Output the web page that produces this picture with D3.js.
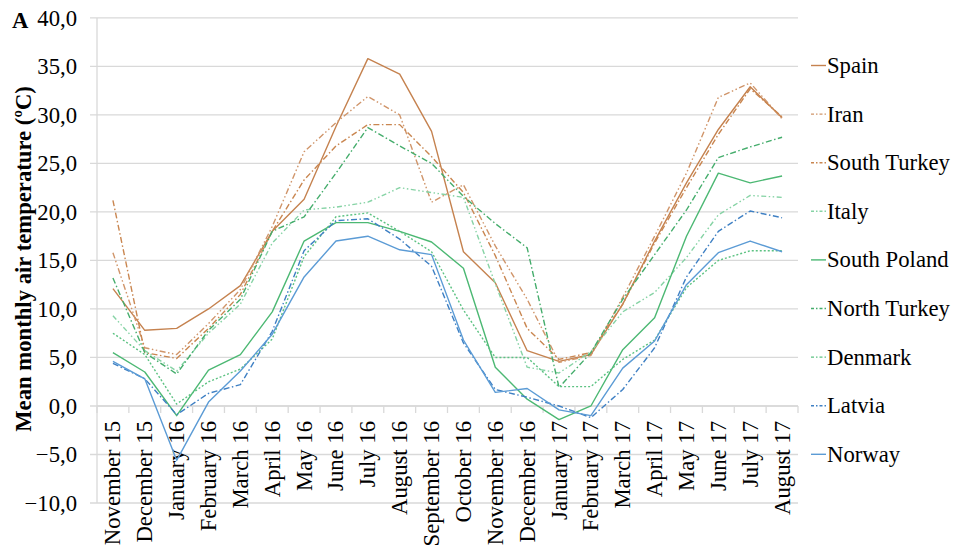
<!DOCTYPE html>
<html><head><meta charset="utf-8">
<script src="https://cdn.jsdelivr.net/npm/d3@7/dist/d3.min.js"></script>
<style>body{margin:0;background:#fff}svg{display:block}</style>
</head><body><svg id="c" width="959" height="554"></svg>
<script>
const months = ["November 15","December 15","January 16","February 16","March 16","April 16","May 16","June 16","July 16","August 16","September 16","October 16","November 16","December 16","January 17","February 17","March 17","April 17","May 17","June 17","July 17","August 17"];
const yTicks = [-10,-5,0,5,10,15,20,25,30,35,40];
const seriesNames = ["Spain","Iran","South Turkey","Italy","South Poland","North Turkey","Denmark","Latvia","Norway"];
const spain       = [12.1,7.8,8.0,10.0,12.4,18.0,21.3,28.8,35.8,34.2,28.3,15.9,12.7,5.7,4.6,5.3,10.5,17.0,23.0,28.5,32.9,29.7];
const iran        = [15.8,6.0,5.3,8.5,12.0,18.5,26.2,29.2,31.9,30.0,21.0,22.8,16.5,11.0,4.5,5.2,11.2,17.5,24.0,31.8,33.3,29.6];
const southTurkey = [21.2,5.5,4.9,8.0,11.5,18.0,23.3,26.8,29.0,29.0,25.7,22.0,15.5,8.0,4.8,5.5,10.5,16.8,22.5,28.0,32.7,29.8];
const italy       = [9.3,5.7,3.6,7.5,10.5,16.8,20.2,20.5,21.0,22.5,22.0,21.5,12.6,4.0,3.4,5.6,9.7,11.7,15.3,19.7,21.7,21.5];
const southPoland = [5.5,3.5,-1.0,3.7,5.3,9.7,17.0,18.9,18.9,18.0,16.9,14.2,4.0,0.7,-1.4,0.0,5.8,9.1,17.5,24.0,23.0,23.7];
const northTurkey = [13.2,5.5,3.3,7.8,11.0,18.0,19.5,24.0,28.7,26.8,25.0,21.6,18.8,16.3,1.9,5.5,11.0,15.6,20.2,25.6,26.7,27.7];
const denmark     = [7.5,5.3,0.2,2.5,3.8,6.9,15.4,19.5,19.9,18.0,15.9,9.9,5.0,5.0,2.0,2.0,4.8,6.8,12.2,15.0,16.0,16.0];
const latvia      = [4.4,2.8,-0.9,1.3,2.2,7.7,16.0,19.1,19.3,17.2,14.4,6.5,1.7,0.9,0.0,-1.2,1.7,6.0,13.3,18.0,20.1,19.4];
const norway      = [4.6,2.8,-5.6,0.4,3.6,7.4,13.3,17.0,17.5,16.1,15.6,6.8,1.4,1.8,-0.4,-1.0,3.9,6.7,12.5,15.8,17.0,15.9];

const values = [spain,iran,southTurkey,italy,southPoland,northTurkey,denmark,latvia,norway];
const colors = ["#c5824f","#d0956a","#c98650","#86d3a5","#4cb873","#45ad6c","#5cc282","#3f80c4","#5b9bd5"];
const dashes = [null,"6,2.5,1.5,2.5,1.5,2.5","6,2.5,1.5,2.5","5,2.5,1.5,2.5,1.5,2.5",null,"6,2.5,1.5,2.5","2,2","6,2.5,1.5,2.5",null];

const FF = "Liberation Serif";
const svg = d3.select("#c");
const L = 97, R = 798, T = 17.9, B = 503;
const x = d3.scaleBand().domain(months).range([L,R]);
const y = d3.scaleLinear().domain([-10,40]).range([B,T]);
const grid = "#d9d9d9";
const fs = 22.7;
function txt(sel){ return sel.append("text").style("font-family",FF).attr("font-size",fs).attr("fill","#000"); }

yTicks.forEach(t=>{
  svg.append("line").attr("x1",L-7).attr("x2",R).attr("y1",y(t)).attr("y2",y(t)).attr("stroke",grid).attr("stroke-width",1.3);
  txt(svg).attr("x",77).attr("y",y(t)).attr("dy","0.34em").attr("text-anchor","end")
    .text(d3.format(".1f")(t).replace(".",","));
});
svg.append("line").attr("x1",L).attr("x2",L).attr("y1",T).attr("y2",B).attr("stroke",grid).attr("stroke-width",1.3);
const y0 = y(0);
svg.append("line").attr("x1",L).attr("x2",R).attr("y1",y0).attr("y2",y0).attr("stroke",grid).attr("stroke-width",1.3);
d3.range(months.length+1).forEach(i=>{
  const xb = L + i*x.bandwidth();
  svg.append("line").attr("x1",xb).attr("x2",xb).attr("y1",y0).attr("y2",y0+7).attr("stroke",grid).attr("stroke-width",1.3);
});
months.forEach(m=>{
  const cx = x(m)+x.bandwidth()/2;
  txt(svg).attr("transform",`translate(${cx},421) rotate(-90)`).attr("dy","0.33em")
    .attr("text-anchor","end").text(m);
});

const line = d3.line().x((d,i)=>x(months[i])+x.bandwidth()/2).y(d=>y(d));
values.forEach((v,k)=>{
  svg.append("path").datum(v).attr("d",line).attr("fill","none").attr("stroke",colors[k])
    .attr("stroke-width",1.4).attr("stroke-dasharray",dashes[k]).attr("stroke-linejoin","round");
});

seriesNames.forEach((n,k)=>{
  const ly = 65.5 + k*48.6;
  svg.append("line").attr("x1",811).attr("x2",826).attr("y1",ly).attr("y2",ly).attr("stroke",colors[k])
    .attr("stroke-width",1.4).attr("stroke-dasharray",dashes[k] ? "3,2,1.5,2" : null);
  txt(svg).attr("x",827).attr("y",ly).attr("dy","0.33em").text(n);
});

txt(svg).attr("transform","translate(31,259) rotate(-90)").attr("text-anchor","middle")
  .attr("font-weight","bold").text("Mean monthly air temperature (ºC)");
txt(svg).attr("x",12).attr("y",28).attr("font-weight","bold").text("A");
</script></body></html>
